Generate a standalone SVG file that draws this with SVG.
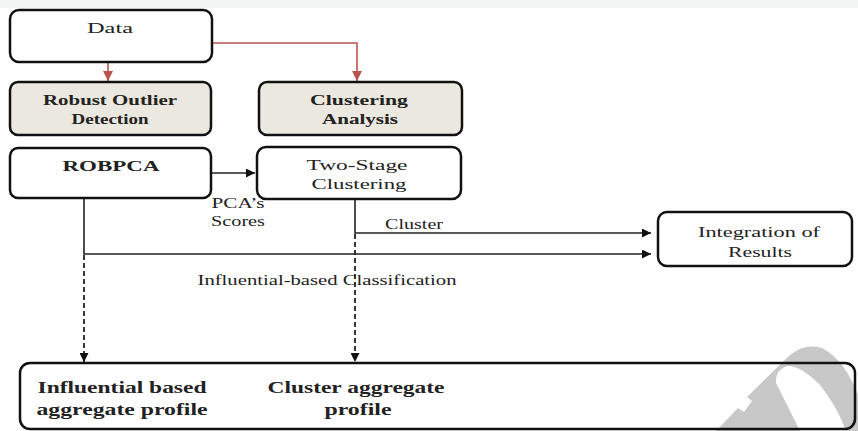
<svg xmlns="http://www.w3.org/2000/svg" width="858" height="431" viewBox="0 0 858 431">
<style>
.box{fill:#fff;stroke:#111;stroke-width:2.5}
.gbox{fill:#ebe8df;stroke:#111;stroke-width:2.5}
.t{font-family:"Liberation Serif","Times New Roman",serif;font-size:15px;fill:#222;text-anchor:middle}
.b{font-weight:bold}
.big{font-size:17px}
.ln{fill:none;stroke:#222;stroke-width:1.6}
.dash{fill:none;stroke:#222;stroke-width:1.8;stroke-dasharray:5 3}
.red{fill:none;stroke:#b85450;stroke-width:1.6}
</style>
<defs>
<marker id="ah" viewBox="0 0 10 10" refX="10" refY="5" markerWidth="9" markerHeight="9" markerUnits="userSpaceOnUse" orient="auto"><path d="M0,0 L10,5 L0,10 Z" fill="#111"/></marker>
<marker id="ahr" viewBox="0 0 10 10" refX="10" refY="5" markerWidth="10" markerHeight="10" markerUnits="userSpaceOnUse" orient="auto"><path d="M0,0 L10,5 L0,10 Z" fill="#b85450"/></marker>
</defs>
<rect x="0" y="0" width="858" height="431" fill="#fff"/>
<rect x="0" y="0" width="858" height="8" fill="#f2f4f4"/>

<g id="watermark">
<path d="M716,431 L738,408 L744,412 L752,401 L747,397 L790,355 Q805,343 822,348 Q845,360 858,395 L858,431 Z M800,431 L776,383 Q775,370 787,366 Q800,365 820,385 Q838,408 846,431 Z" fill="#c8c8c8" fill-rule="evenodd"/>
</g>

<g id="connectors">
<path class="red" d="M108,62 V81" marker-end="url(#ahr)"/>
<path class="red" d="M212,43 H357 V81" marker-end="url(#ahr)"/>
<path class="ln" d="M211,173 H255" marker-end="url(#ah)"/>
<path class="ln" d="M84,198 V254 H651" marker-end="url(#ah)"/>
<path class="ln" d="M355,199 V233 H651" marker-end="url(#ah)"/>
<path class="dash" d="M84,255 V362" marker-end="url(#ah)"/>
<path class="dash" d="M355,234 V362" marker-end="url(#ah)"/>
<text class="t" x="238" y="208" textLength="53" lengthAdjust="spacingAndGlyphs" font-size="14">PCA’s</text>
<text class="t" x="238" y="226" textLength="54" lengthAdjust="spacingAndGlyphs">Scores</text>
<text class="t" x="414" y="229" textLength="58" lengthAdjust="spacingAndGlyphs">Cluster</text>
<text class="t" x="327" y="285" textLength="259" lengthAdjust="spacingAndGlyphs">Influential-based Classification</text>
</g>

<g id="data">
<rect class="box" x="10" y="10" width="202" height="52" rx="9"/>
<text class="t" x="110" y="33" textLength="46" lengthAdjust="spacingAndGlyphs">Data</text>
</g>
<g id="robust">
<rect class="gbox" x="10" y="82" width="201" height="53" rx="8"/>
<text class="t b" x="110" y="105" textLength="134" lengthAdjust="spacingAndGlyphs">Robust Outlier</text>
<text class="t b" x="110" y="124" textLength="77" lengthAdjust="spacingAndGlyphs">Detection</text>
</g>
<g id="clustering">
<rect class="gbox" x="259" y="82" width="203" height="53" rx="8"/>
<text class="t b" x="359" y="105" textLength="98" lengthAdjust="spacingAndGlyphs">Clustering</text>
<text class="t b" x="360" y="124" textLength="76" lengthAdjust="spacingAndGlyphs">Analysis</text>
</g>
<g id="robpca">
<rect class="box" x="10" y="148" width="201" height="50" rx="8"/>
<text class="t b" x="111" y="171" textLength="97" lengthAdjust="spacingAndGlyphs">ROBPCA</text>
</g>
<g id="twostage">
<rect class="box" x="257" y="147" width="204" height="52" rx="9"/>
<text class="t" x="357" y="170" textLength="101" lengthAdjust="spacingAndGlyphs">Two-Stage</text>
<text class="t" x="359" y="189" textLength="95" lengthAdjust="spacingAndGlyphs">Clustering</text>
</g>
<g id="integration">
<rect class="box" x="658" y="212" width="194" height="54" rx="9"/>
<text class="t" x="759" y="237" textLength="122" lengthAdjust="spacingAndGlyphs">Integration of</text>
<text class="t" x="760" y="257" textLength="64" lengthAdjust="spacingAndGlyphs">Results</text>
</g>
<g id="profiles">
<rect x="20" y="363" width="835" height="66" rx="10" fill="none" stroke="#111" stroke-width="2.5"/>
<text class="t b big" x="122" y="393" textLength="169" lengthAdjust="spacingAndGlyphs">Influential based</text>
<text class="t b big" x="122" y="415" textLength="171" lengthAdjust="spacingAndGlyphs">aggregate profile</text>
<text class="t b big" x="356" y="393" textLength="177" lengthAdjust="spacingAndGlyphs">Cluster aggregate</text>
<text class="t b big" x="358" y="415" textLength="67" lengthAdjust="spacingAndGlyphs">profile</text>
</g>
</svg>
